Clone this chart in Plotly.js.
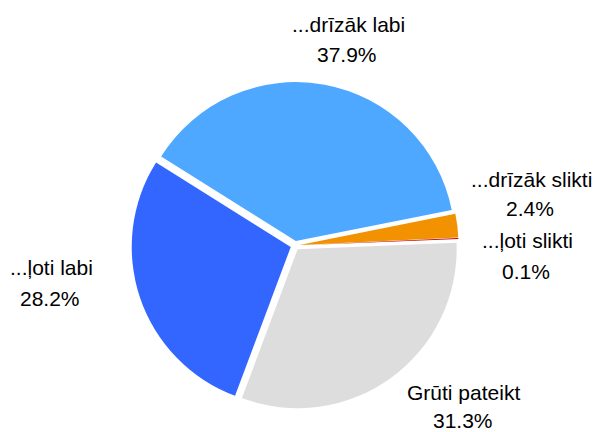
<!DOCTYPE html>
<html>
<head>
<meta charset="utf-8">
<script src="https://cdn.plot.ly/plotly-3.0.1.min.js"></script>
<style>html,body{margin:0;padding:0;background:#fff;}#chart{width:595px;height:432px;}</style>
</head>
<body>
<div id="chart"></div>
<script>
// Data
const categories = ["...ļoti labi", "...drīzāk labi", "...drīzāk slikti", "...ļoti slikti", "Grūti pateikt"];
const values = [28.2, 37.9, 2.4, 0.1, 31.3];
const percentLabels = ["28.2%", "37.9%", "2.4%", "0.1%", "31.3%"];
const colors = ["#3366FF", "#4FA8FF", "#F29200", "#C00000", "#DDDDDD"];

// Label placement (pixel centres and baselines)
const W = 595, H = 432, FS = 21;
const labelPos = [[51.7, 275], [348, 32], [531.7, 186.7], [527, 247.3], [463, 399.5]];
const pctPos = [[50.3, 305.7], [346.7, 62], [530, 216], [526, 278.3], [463, 427.5]];

const annotations = [];
function addText(txt, p) {
  annotations.push({
    text: txt, showarrow: false, xref: 'paper', yref: 'paper',
    x: p[0] / W, y: 1 - (p[1] - 0.3465 * FS) / H,
    xanchor: 'center', yanchor: 'middle',
    font: {family: 'Liberation Sans, Arial, sans-serif', size: FS, color: '#000'}
  });
}
categories.forEach((c, i) => { addText(c, labelPos[i]); addText(percentLabels[i], pctPos[i]); });

const PULL = 0.0283;
const trace = {
  type: 'pie',
  labels: categories,
  values: values,
  sort: false,
  direction: 'clockwise',
  rotation: 200.5,
  textinfo: 'none',
  hoverinfo: 'label+percent',
  pull: categories.map(() => PULL),
  marker: {colors: colors, line: {color: '#FFFFFF', width: 0}},
  domain: {x: [131.5 / W, 458.5 / W], y: [23 / H, 350 / H]},
  automargin: false
};

const layout = {
  width: W, height: H,
  margin: {l: 0, r: 0, t: 0, b: 0},
  paper_bgcolor: '#FFFFFF',
  showlegend: false,
  annotations: annotations,
  font: {family: 'Liberation Sans, Arial, sans-serif'}
};

Plotly.newPlot('chart', [trace], layout, {displayModeBar: false, staticPlot: true});
</script>
</body>
</html>
